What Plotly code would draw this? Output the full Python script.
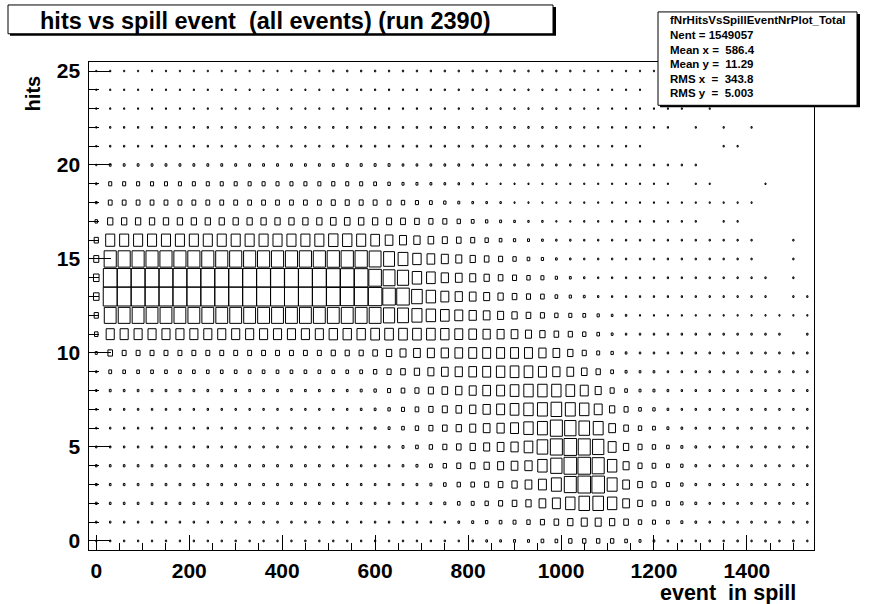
import math
import plotly.graph_objects as go

W, H = 875, 604

# Binning of fNrHitsVsSpillEventNrPlot_Total
X_LOW, X_BIN = -15, 30          # event-in-spill bins: [-15,15), [15,45), ...
Y_LOW, Y_BIN = -0.5, 1          # hits bins centred on integers 0..25

x_tick_values = [0, 200, 400, 600, 800, 1000, 1200, 1400]
x_tick_labels = ["0", "200", "400", "600", "800", "1000", "1200", "1400"]
y_tick_values = [0, 5, 10, 15, 20, 25]
y_tick_labels = ["0", "5", "10", "15", "20", "25"]

# Bin contents: one list per number of hits, 52 event-in-spill bins each
hits_00 = [30, 40, 40, 40, 40, 40, 40, 40, 40, 40, 40, 40, 40,
           40, 40, 40, 40, 40, 40, 40, 40, 40, 40, 40, 40, 40,
           40, 50, 70, 70, 100, 100, 180, 180, 290, 290, 290, 290, 180,
           100, 70, 50, 50, 40, 50, 40, 50, 40, 50, 40, 50, 40]
hits_01 = [50, 50, 50, 50, 50, 50, 50, 50, 50, 50, 50, 50, 50,
           50, 50, 50, 50, 50, 50, 50, 50, 50, 50, 50, 50, 50,
           70, 100, 145, 180, 220, 290, 420, 545, 720, 925, 925, 720, 545,
           290, 240, 180, 100, 70, 50, 50, 50, 50, 50, 50, 50, 50]
hits_02 = [70, 70, 70, 70, 70, 70, 70, 70, 70, 70, 70, 70, 70,
           70, 70, 70, 70, 60, 60, 60, 60, 60, 60, 60, 70, 100,
           180, 220, 290, 420, 545, 720, 1150, 1620, 2240, 2890, 2890, 2240, 1150,
           545, 340, 240, 145, 85, 50, 50, 50, 50, 50, 50, 50, 50]
hits_03 = [70, 70, 70, 70, 70, 70, 70, 70, 70, 70, 70, 70, 70,
           70, 70, 70, 70, 60, 60, 60, 60, 60, 60, 70, 100, 180,
           290, 340, 420, 545, 720, 1150, 1620, 2520, 3700, 4050, 4050, 2520, 1150,
           545, 420, 240, 145, 70, 70, 50, 50, 50, 50, 50, 50, 50]
hits_04 = [70, 70, 70, 70, 70, 70, 70, 70, 70, 70, 70, 70, 70,
           70, 70, 70, 70, 55, 55, 55, 55, 55, 70, 100, 180, 290,
           420, 545, 720, 925, 1150, 1350, 2240, 3280, 4050, 4050, 3700, 2240, 925,
           420, 340, 200, 145, 70, 50, 50, 50, 50, 50, 50, 50, 50]
hits_05 = [50, 50, 50, 50, 50, 50, 50, 50, 50, 50, 50, 50, 50,
           50, 50, 50, 50, 50, 50, 50, 50, 70, 100, 180, 290, 420,
           545, 720, 925, 1150, 1350, 1920, 2890, 3700, 4050, 3700, 3280, 1620, 720,
           420, 290, 180, 100, 70, 50, 50, 50, 50, 50, 50, 50, 50]
hits_06 = [40, 45, 45, 45, 45, 45, 45, 45, 45, 45, 45, 45, 45,
           45, 45, 45, 45, 50, 50, 50, 70, 100, 180, 290, 420, 545,
           720, 925, 1150, 1350, 1620, 2240, 2520, 3700, 3280, 2890, 2520, 1150, 545,
           290, 200, 100, 70, 50, 50, 50, 50, 50, 50, 50, 50, 50]
hits_07 = [40, 50, 50, 50, 50, 50, 50, 50, 50, 50, 50, 50, 50,
           50, 50, 50, 50, 50, 50, 70, 85, 145, 240, 340, 480, 650,
           800, 1010, 1350, 1620, 1920, 2240, 2520, 2890, 2520, 2240, 1620, 720, 420,
           180, 145, 70, 50, 50, 50, 50, 50, 50, 50, 50, 50, 50]
hits_08 = [50, 85, 70, 70, 70, 70, 70, 70, 70, 70, 70, 70, 70,
           70, 70, 70, 70, 70, 70, 100, 145, 240, 340, 420, 650, 800,
           1010, 1250, 1510, 1620, 1920, 2240, 2240, 2240, 1920, 1620, 925, 420, 180,
           100, 100, 70, 50, 50, 50, 50, 50, 50, 50, 50, 50, 50]
hits_09 = [50, 200, 180, 180, 180, 180, 180, 180, 180, 180, 180, 180, 180,
           180, 180, 180, 180, 180, 180, 200, 290, 420, 545, 720, 925, 1150,
           1350, 1510, 1620, 1800, 1920, 1920, 1620, 1350, 1150, 800, 480, 200, 100,
           70, 70, 50, 50, 50, 50, 50, 50, 50, 50, 50, 50, 50]
hits_10 = [110, 545, 390, 390, 390, 390, 390, 390, 390, 390, 390, 390, 390,
           390, 390, 390, 390, 450, 450, 450, 545, 720, 925, 1150, 1250, 1350,
           1510, 1620, 1620, 1620, 1620, 1620, 1350, 1150, 720, 420, 220, 145, 70,
           50, 50, 50, 50, 50, 50, 50, 50, 50, 50, 50, 50, 50]
hits_11 = [310, 1680, 1680, 1680, 1680, 1680, 1680, 1680, 1680, 1680, 1680, 1680, 1680,
           1680, 1680, 1680, 1680, 1800, 1800, 1800, 1920, 1920, 1920, 1920, 1920, 1800,
           1620, 1510, 1350, 1250, 1150, 925, 720, 545, 450, 290, 180, 85, 50,
           50, 50, 50, 50, 50, 50, 50, 50, 50, 50, 50, 0, 50]
hits_12 = [450, 3610, 3610, 3610, 3610, 3610, 3610, 3610, 3610, 3610, 3610, 3610, 3610,
           3610, 3610, 3610, 3610, 3610, 3610, 3610, 3610, 3200, 3040, 2590, 2240, 1920,
           1620, 1350, 1150, 925, 720, 545, 420, 290, 240, 200, 130, 70, 50,
           30, 30, 30, 30, 30, 30, 30, 30, 30, 30, 30, 30, 30]
hits_13 = [800, 5000, 5000, 5000, 5000, 5000, 5000, 5000, 5000, 5000, 5000, 5000, 5000,
           5000, 5000, 5000, 5000, 4700, 4700, 4700, 4700, 4050, 4050, 2890, 2240, 1620,
           1350, 1150, 925, 720, 545, 420, 340, 180, 130, 85, 50, 40, 40,
           40, 40, 40, 40, 40, 40, 40, 40, 40, 40, 0, 40, 40]
hits_14 = [800, 4850, 4850, 4850, 4850, 4850, 4850, 4850, 4850, 4850, 4850, 4850, 4850,
           4850, 4850, 4850, 4850, 4700, 4700, 4700, 4050, 3610, 3200, 2240, 1920, 1350,
           1150, 925, 720, 545, 420, 290, 240, 130, 85, 50, 40, 40, 40,
           40, 40, 40, 40, 40, 40, 40, 40, 40, 40, 0, 40, 0]
hits_15 = [650, 3780, 3780, 3780, 3780, 3780, 3780, 3780, 3780, 3780, 3780, 3780, 3780,
           3780, 3780, 3780, 3780, 3870, 3870, 3870, 3610, 3040, 2450, 1800, 1510, 1250,
           925, 720, 545, 420, 290, 180, 130, 70, 50, 40, 40, 40, 40,
           40, 40, 40, 40, 40, 40, 40, 40, 40, 0, 0, 40, 0]
hits_16 = [450, 2110, 2110, 2110, 2110, 2110, 2110, 2110, 2110, 2110, 2110, 2110, 2110,
           2110, 2110, 2110, 2110, 2240, 2240, 2110, 1920, 1510, 1250, 1010, 800, 650,
           545, 420, 290, 180, 130, 100, 70, 50, 50, 40, 40, 40, 40,
           40, 40, 40, 40, 40, 40, 40, 40, 40, 0, 0, 40, 0]
hits_17 = [160, 720, 720, 720, 720, 720, 720, 720, 720, 720, 720, 720, 720,
           720, 720, 720, 720, 800, 800, 760, 720, 650, 600, 545, 450, 420,
           290, 200, 145, 100, 70, 50, 50, 30, 30, 35, 35, 35, 35,
           35, 35, 35, 35, 35, 0, 35, 35, 0, 0, 0, 0, 0]
hits_18 = [70, 365, 365, 365, 365, 365, 365, 365, 365, 365, 365, 365, 365,
           365, 365, 365, 365, 420, 420, 400, 390, 340, 290, 240, 200, 145,
           100, 70, 60, 50, 30, 30, 30, 30, 30, 30, 30, 30, 30,
           30, 30, 30, 30, 30, 30, 30, 30, 30, 0, 0, 0, 0]
hits_19 = [50, 240, 240, 240, 240, 240, 240, 240, 240, 240, 240, 240, 240,
           240, 240, 240, 240, 260, 240, 240, 200, 160, 110, 100, 85, 70,
           60, 50, 30, 30, 30, 30, 30, 30, 30, 30, 30, 30, 30,
           30, 30, 30, 0, 30, 30, 0, 0, 0, 30, 0, 0, 0]
hits_20 = [30, 85, 85, 85, 85, 85, 85, 85, 85, 85, 85, 85, 85,
           85, 85, 85, 85, 100, 100, 100, 100, 100, 70, 70, 70, 70,
           70, 50, 50, 50, 50, 50, 50, 50, 50, 40, 40, 40, 40,
           40, 40, 40, 40, 40, 0, 0, 0, 0, 0, 0, 0, 0]
hits_21 = [30, 40, 40, 40, 40, 40, 40, 40, 40, 40, 40, 40, 40,
           40, 40, 40, 40, 45, 45, 45, 45, 45, 45, 45, 45, 45,
           45, 45, 45, 45, 45, 45, 45, 45, 45, 35, 35, 35, 35,
           35, 0, 0, 0, 0, 0, 35, 35, 0, 0, 0, 0, 0]
hits_22 = [30, 40, 40, 40, 40, 40, 40, 40, 40, 40, 40, 40, 40,
           40, 40, 40, 40, 45, 45, 45, 45, 45, 45, 45, 45, 45,
           45, 45, 45, 45, 45, 45, 45, 45, 45, 35, 35, 35, 35,
           35, 35, 35, 0, 35, 0, 35, 0, 35, 0, 0, 0, 0]
hits_23 = [30, 30, 30, 30, 30, 30, 30, 30, 30, 30, 30, 30, 30,
           30, 30, 30, 30, 35, 35, 35, 35, 35, 35, 35, 35, 35,
           35, 35, 35, 35, 35, 35, 35, 35, 35, 30, 30, 30, 30,
           30, 30, 30, 30, 0, 30, 0, 0, 0, 0, 0, 0, 0]
hits_24 = [25, 30, 30, 30, 30, 30, 30, 30, 30, 30, 30, 30, 30,
           30, 30, 30, 30, 35, 35, 35, 35, 35, 35, 35, 35, 35,
           35, 35, 35, 35, 35, 35, 35, 35, 35, 30, 30, 30, 30,
           30, 0, 0, 0, 0, 0, 0, 0, 0, 0, 0, 0, 0]
hits_25 = [25, 30, 30, 30, 30, 30, 30, 30, 30, 30, 30, 30, 30,
           30, 30, 30, 30, 40, 40, 40, 40, 40, 40, 40, 40, 40,
           40, 40, 40, 40, 40, 40, 40, 40, 40, 30, 30, 30, 30,
           30, 30, 0, 0, 0, 0, 0, 0, 0, 0, 0, 0, 0]

hits_rows = [hits_00, hits_01, hits_02, hits_03, hits_04, hits_05, hits_06,
             hits_07, hits_08, hits_09, hits_10, hits_11, hits_12, hits_13,
             hits_14, hits_15, hits_16, hits_17, hits_18, hits_19, hits_20,
             hits_21, hits_22, hits_23, hits_24, hits_25]

stats_lines = ["fNrHitsVsSpillEventNrPlot_Total",
               "Nent = 1549057",
               "Mean x =\u00a0 586.4",
               "Mean y =\u00a0 11.29",
               "RMS x\u00a0 =\u00a0 343.8",
               "RMS y\u00a0 =\u00a0 5.003"]

# BOX drawing: each non-empty cell gets an open square whose side scales with
# sqrt(content / max content), centred in its bin
cmax = max(max(r) for r in hits_rows)
bx, by = [], []
for iy, row in enumerate(hits_rows):
    yc = Y_LOW + (iy + 0.5) * Y_BIN
    for ix, c in enumerate(row):
        if c <= 0:
            continue
        r = math.sqrt(c / cmax)
        xc = X_LOW + (ix + 0.5) * X_BIN
        hx, hy = 0.5 * X_BIN * r, 0.5 * Y_BIN * r
        bx += [xc - hx, xc + hx, xc + hx, xc - hx, xc - hx, None]
        by += [yc - hy, yc - hy, yc + hy, yc + hy, yc - hy, None]

fig = go.Figure()
fig.add_trace(go.Scatter(x=bx, y=by, mode="lines",
                         line=dict(color="black", width=1),
                         hoverinfo="skip", showlegend=False))


def fx(p):
    return p / W


def fy(p):
    return 1 - p / H


FONT = "Liberation Sans, Arial, Helvetica, sans-serif"
x_lo, x_hi = X_LOW, X_LOW + X_BIN * len(hits_00)
y_lo, y_hi = Y_LOW, Y_LOW + Y_BIN * len(hits_rows)

fig.update_layout(
    width=W, height=H,
    margin=dict(l=0, r=0, t=0, b=0),
    paper_bgcolor="white", plot_bgcolor="white",
    showlegend=False,
    font=dict(family=FONT, color="black"),
    xaxis=dict(
        domain=[fx(89.3), fx(814.3)], range=[x_lo, x_hi],
        showgrid=False, zeroline=False,
        showline=True, linecolor="black", linewidth=1, mirror=True,
        tickmode="array", tickvals=x_tick_values, ticktext=x_tick_labels,
        ticks="inside", ticklen=15, tickwidth=1, tickcolor="black",
        tickfont=dict(family=FONT, size=21, weight="bold", color="black"),
        ticklabelstandoff=1,
        minor=dict(ticks="inside", ticklen=7, tickwidth=1, tickcolor="black",
                   tickmode="linear", tick0=0, dtick=50, showgrid=False),
    ),
    yaxis=dict(
        domain=[fy(552), fy(60)], range=[y_lo, y_hi],
        showgrid=False, zeroline=False,
        showline=True, linecolor="black", linewidth=1, mirror=True,
        tickmode="array", tickvals=y_tick_values, ticktext=y_tick_labels,
        ticks="inside", ticklen=22, tickwidth=1, tickcolor="black",
        tickfont=dict(family=FONT, size=21, weight="bold", color="black"),
        ticklabelstandoff=4,
        minor=dict(ticks="inside", ticklen=10, tickwidth=1, tickcolor="black",
                   tickmode="linear", tick0=0, dtick=1, showgrid=False),
    ),
)

shapes = []
# title pave with its drop shadow
shapes.append(dict(type="rect", xref="paper", yref="paper",
                   x0=fx(10), x1=fx(556), y0=fy(34), y1=fy(5),
                   fillcolor="black", line=dict(width=0)))
shapes.append(dict(type="rect", xref="paper", yref="paper",
                   x0=fx(8), x1=fx(553), y0=fy(32), y1=fy(3),
                   fillcolor="white", line=dict(color="black", width=1)))
# statistics pave with its drop shadow
shapes.append(dict(type="rect", xref="paper", yref="paper",
                   x0=fx(660), x1=fx(860), y0=fy(106), y1=fy(12),
                   fillcolor="black", line=dict(width=0)))
shapes.append(dict(type="rect", xref="paper", yref="paper",
                   x0=fx(658), x1=fx(857), y0=fy(104), y1=fy(10),
                   fillcolor="white", line=dict(color="black", width=1)))
fig.update_layout(shapes=shapes)

ann = []
ann.append(dict(text="hits vs spill event\u00a0 (all events) (run 2390)",
                x=fx(38), y=fy(19), xref="paper", yref="paper",
                xanchor="left", yanchor="middle", showarrow=False,
                font=dict(family=FONT, size=23.5, weight="bold", color="black")))
for i, line in enumerate(stats_lines):
    ann.append(dict(text=line, x=fx(668), y=fy(18.5 + 14.7 * i),
                    xref="paper", yref="paper", xanchor="left",
                    yanchor="middle", showarrow=False,
                    font=dict(family=FONT, size=11.5, weight="bold",
                              color="black")))
ann.append(dict(text="event\u00a0 in spill", x=fx(797), y=fy(595),
                xref="paper", yref="paper", xanchor="right", yanchor="middle",
                showarrow=False, borderpad=0,
                font=dict(family=FONT, size=21.5, weight="bold", color="black")))
ann.append(dict(text="hits", x=fx(33), y=fy(92), textangle=-90,
                xref="paper", yref="paper", xanchor="center", yanchor="middle",
                showarrow=False,
                font=dict(family=FONT, size=20, weight="bold", color="black")))
fig.update_layout(annotations=ann)

fig.write_html("out.html")
